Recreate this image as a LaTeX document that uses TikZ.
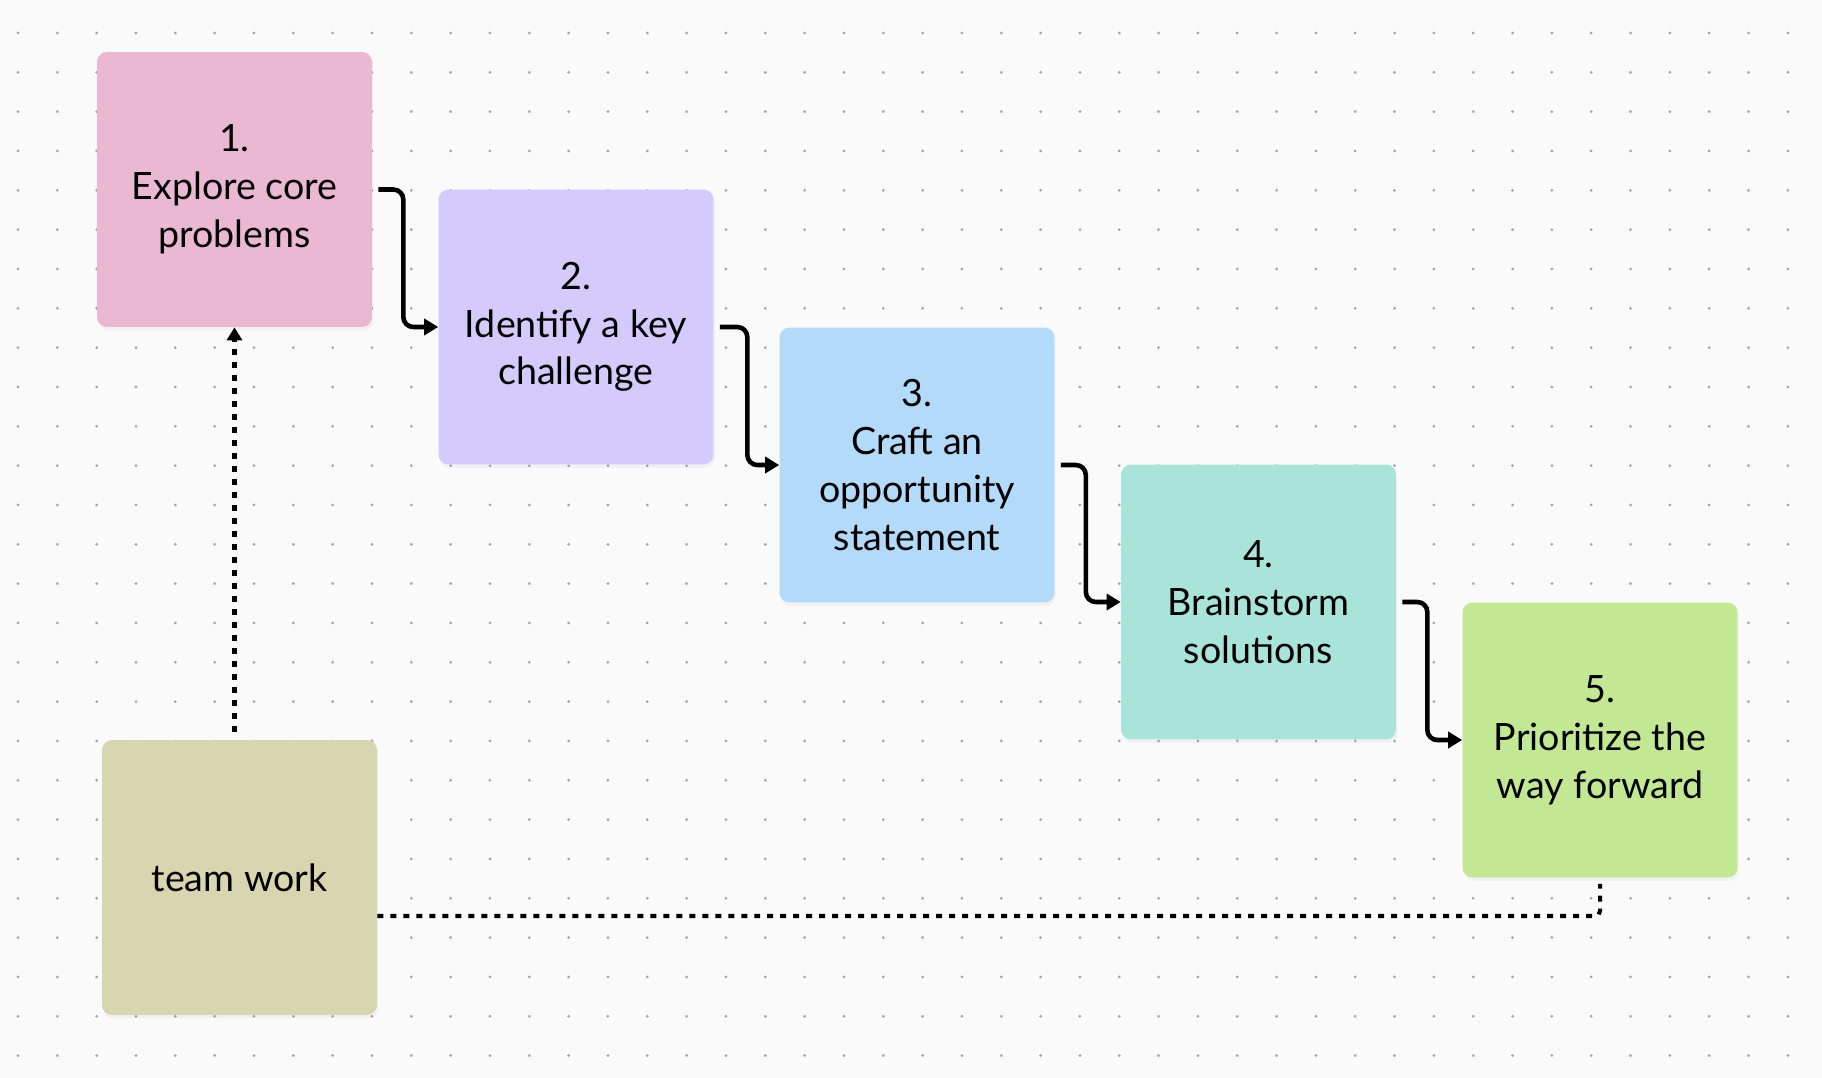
\documentclass[tikz,border=0pt]{standalone}
\usepackage{fontspec}
\setmainfont{Lato}
\usetikzlibrary{arrows.meta,shadows}
\definecolor{paper}{HTML}{FAFAFA}
\definecolor{griddot}{HTML}{A3A3A3}
\definecolor{pinkcard}{HTML}{EAB8D3}
\definecolor{lilaccard}{HTML}{D4CAFC}
\definecolor{bluecard}{HTML}{B3DAF9}
\definecolor{tealcard}{HTML}{A9E4DA}
\definecolor{greencard}{HTML}{C2E894}
\definecolor{olivecard}{HTML}{D8D6B0}

\begin{document}
\begin{tikzpicture}[x=0.02cm,y=-0.02cm,
  card/.style={rounded corners=0.2cm,minimum width=5.5cm,minimum height=5.5cm,
    align=center,font=\fontsize{21.4}{27.2}\selectfont,
    drop shadow={shadow xshift=0.03cm,shadow yshift=-0.07cm,opacity=0.07}},
  flow/.style={line width=2.6pt,rounded corners=0.2cm,-{Triangle[length=0.28cm,width=0.32cm]}},
  link/.style={line width=2.3pt,dash pattern=on 0.12cm off 0.14cm}]
  \useasboundingbox (0,0) rectangle (1822,1078);
  \fill[paper] (0,0) rectangle (1822,1078);
  \foreach \i in {0,...,45}
    \foreach \j in {0,...,26}
      \fill[griddot] (18+39.33*\i,33+39.33*\j) circle (0.03cm);

  \node[card,fill=pinkcard] (explore) at (234.5,189.5) {1.\\Explore core\\problems};
  \node[card,fill=lilaccard] (identify) at (576,327) {2.\\Identify a key\\challenge};
  \node[card,fill=bluecard] (craft) at (917,465) {3.\\Craft an\\opportunity\\statement};
  \node[card,fill=tealcard] (brainstorm) at (1258.5,602) {4.\\Brainstorm\\solutions};
  \node[card,fill=greencard] (prioritize) at (1600,740) {5.\\Prioritize the\\way forward};
  \node[card,fill=olivecard] (team) at (239.5,877.5) {team work};

  \draw[flow] ([xshift=0.12cm]explore.east) -- ++(0.5cm,0) |- (identify.west);
  \draw[flow] ([xshift=0.12cm]identify.east) -- ++(0.55cm,0) |- (craft.west);
  \draw[flow] ([xshift=0.12cm]craft.east) -- ++(0.5cm,0) |- (brainstorm.west);
  \draw[flow] ([xshift=0.12cm]brainstorm.east) -- ++(0.5cm,0) |- (prioritize.west);

  \coordinate (teamtop) at ([yshift=0.16cm]team.north);
  \draw[link,-{Triangle[length=0.26cm,width=0.3cm]}] (teamtop -| explore.south) -- (explore.south);
  \coordinate (teamtail) at ([yshift=-0.77cm]team.east);
  \coordinate (forward) at ([yshift=-0.12cm]prioritize.south);
  \draw[link,rounded corners=0.1cm] (teamtail) -| (forward);
\end{tikzpicture}
\end{document}
